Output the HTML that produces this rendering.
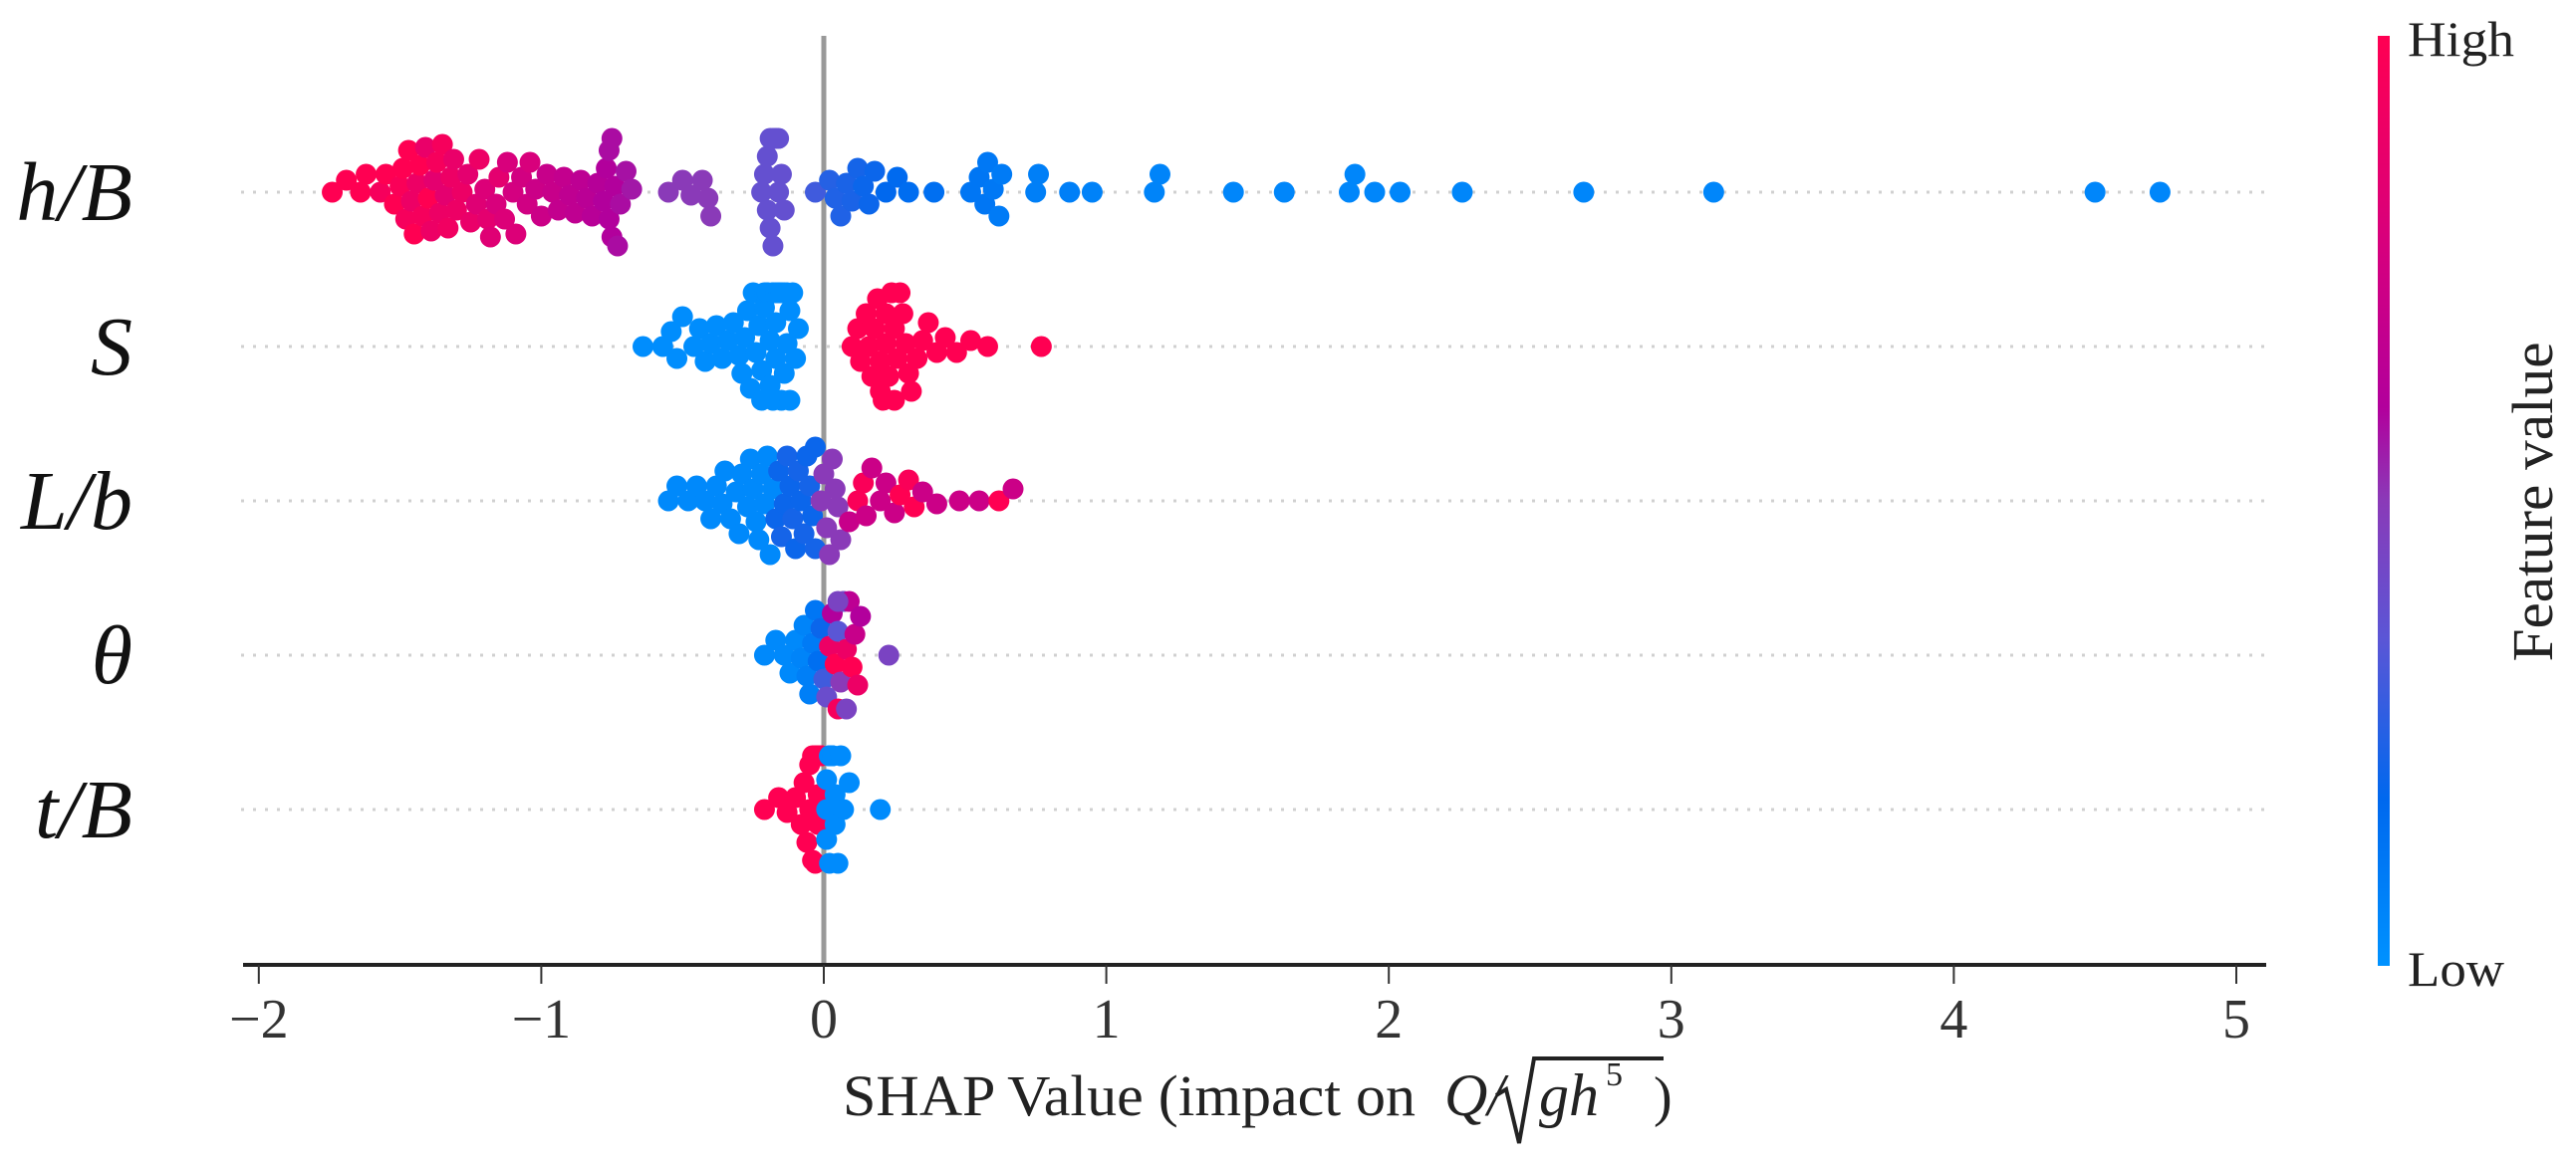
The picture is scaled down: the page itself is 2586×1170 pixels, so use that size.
<!DOCTYPE html>
<html><head><meta charset="utf-8"><style>
html,body{margin:0;padding:0;background:#fff;}
svg{display:block;font-family:"Liberation Serif","Times New Roman",serif;}
text{font-family:"Liberation Serif","Times New Roman",serif;}
</style></head><body>
<svg id="chart" width="2586" height="1170" viewBox="0 0 2586 1170" font-family="Liberation Serif, serif" xmlns="http://www.w3.org/2000/svg">
<defs>
<linearGradient id="cbar" x1="0" y1="1" x2="0" y2="0">
<stop offset="0" stop-color="#0092ff"/>
<stop offset="0.18" stop-color="#0068ee"/>
<stop offset="0.35" stop-color="#5a56d6"/>
<stop offset="0.5" stop-color="#8a3ab8"/>
<stop offset="0.6" stop-color="#b2009c"/>
<stop offset="0.78" stop-color="#d8007c"/>
<stop offset="1" stop-color="#ff0052"/>
</linearGradient>
</defs>
<g id="guides"></g>
<line x1="827" y1="36" x2="827" y2="969" stroke="#999" stroke-width="5"/>
<g id="dots"></g>
<g id="axis"></g>
<g id="labels"></g>
<rect x="2387" y="36" width="12" height="934" fill="url(#cbar)"/>
<text x="2417" y="56" font-size="50" textLength="107" lengthAdjust="spacingAndGlyphs" fill="#222">High</text>
<text x="2417" y="990" font-size="50" textLength="97" lengthAdjust="spacingAndGlyphs" fill="#222">Low</text>
<text transform="translate(2562,504) rotate(-90)" text-anchor="middle" font-size="58" textLength="321" lengthAdjust="spacingAndGlyphs" fill="#222">Feature value</text>
</svg>
<script>
const features = ["h/B", "S", "L/b", "θ", "t/B"];
const xTicks = [-2, -1, 0, 1, 2, 3, 4, 5];
const xTickLabels = ["−2", "−1", "0", "1", "2", "3", "4", "5"];

const hbX = [-1.74,-1.69,-1.64,-1.62,-1.57,-1.55,-1.52,-1.5,-1.49,-1.48,-1.47,-1.46,-1.45,-1.44,-1.43,-1.42,-1.41,-1.4,-1.39,-1.38,-1.37,-1.36,-1.35,-1.34,-1.33,-1.32,-1.31,-1.3,
-1.28,-1.26,-1.25,-1.23,-1.22,-1.2,-1.19,-1.18,-1.16,-1.15,-1.13,-1.12,-1.1,-1.09,-1.07,-1.05,-1.04,-1.02,-1.0,
-0.98,-0.96,-0.94,-0.92,-0.9,-0.88,-0.86,-0.84,-0.82,-0.8,-0.78,-0.77,-0.76,-0.76,-0.75,-0.75,-0.74,-0.73,-0.72,-0.7,-0.68,
-0.55,-0.5,-0.47,-0.43,-0.41,-0.4,
-0.22,-0.21,-0.2,-0.2,-0.19,-0.19,-0.18,-0.18,-0.17,-0.17,-0.16,-0.16,-0.15,-0.14,
-0.03,
0.02,0.04,0.06,0.08,0.1,0.12,0.14,0.16,0.18,0.22,0.26,0.3,0.39,
0.52,0.55,0.57,0.58,0.6,0.62,0.63,0.75,0.76,0.87,0.95,1.17,1.19,1.45,1.63,1.86,1.88,1.95,2.04,2.26,2.69,3.15,4.5,4.73];
const hbF = [1,1,1,1,0.95,1,1,0.97,1,0.95,1,0.9,1,0.9,1,0.95,0.88,1,0.9,0.85,0.95,0.9,0.95,0.85,0.92,0.9,0.88,0.9,
0.9,0.85,0.88,0.82,0.9,0.8,0.85,0.82,0.78,0.85,0.8,0.78,0.76,0.8,0.75,0.74,0.78,0.72,0.72,
0.7,0.7,0.68,0.68,0.66,0.66,0.65,0.64,0.63,0.62,0.6,0.6,0.6,0.58,0.6,0.58,0.6,0.58,0.58,0.57,0.56,
0.5,0.5,0.5,0.5,0.5,0.5,
0.38,0.38,0.38,0.38,0.38,0.38,0.38,0.38,0.38,0.38,0.38,0.38,0.38,0.38,
0.3,
0.25,0.24,0.24,0.23,0.23,0.22,0.2,0.2,0.2,0.18,0.17,0.16,0.15,
0.12,0.12,0.12,0.11,0.11,0.1,0.1,0.08,0.08,0.08,0.07,0.06,0.06,0.05,0.05,0.05,0.05,0.05,0.05,0.05,0.05,0.05,0.05,0.05];

const sX = [-0.64,-0.57,-0.54,-0.52,-0.5,-0.46,-0.44,-0.42,-0.4,-0.38,-0.36,-0.34,-0.32,-0.3,-0.29,-0.28,-0.27,-0.26,-0.25,-0.24,-0.23,-0.22,-0.22,-0.21,-0.21,-0.2,-0.2,-0.19,-0.19,-0.18,-0.18,-0.18,-0.17,-0.17,-0.17,-0.16,-0.16,-0.16,-0.15,-0.15,-0.15,-0.14,-0.14,-0.13,-0.13,-0.12,-0.12,-0.11,-0.1,-0.09,
0.1,0.12,0.13,0.15,0.16,0.17,0.18,0.19,0.2,0.2,0.21,0.22,0.22,0.23,0.24,0.25,0.25,0.26,0.27,0.28,0.29,0.3,0.31,0.33,0.35,0.37,0.4,0.43,0.47,0.52,0.58,0.77];
const sF = [0.02,0.02,0.02,0.02,0.02,0.02,0.02,0.02,0.02,0.02,0.02,0.02,0.02,0.02,0.02,0.02,0.02,0.02,0.02,0.02,0.02,0.02,0.02,0.02,0.02,0.02,0.02,0.02,0.02,0.02,0.02,0.02,0.02,0.02,0.02,0.02,0.02,0.02,0.02,0.02,0.02,0.02,0.02,0.02,0.02,0.02,0.02,0.02,0.02,0.02,
1,1,1,1,1,1,1,1,1,1,1,1,1,1,1,1,1,1,1,1,1,1,1,1,1,1,1,1,1,1,1,1];

const lbX = [-0.55,-0.52,-0.48,-0.45,-0.42,-0.4,-0.38,-0.36,-0.35,-0.33,-0.31,-0.3,-0.29,-0.27,-0.26,-0.25,-0.24,-0.23,-0.22,-0.21,-0.2,-0.19,-0.18,
-0.17,-0.16,-0.15,-0.14,-0.13,-0.12,-0.11,-0.1,-0.09,-0.08,-0.07,-0.06,-0.05,-0.04,-0.03,-0.03,
-0.01,0.0,0.01,0.02,0.03,0.04,0.05,0.06,
0.09,0.12,0.14,0.15,0.17,0.2,0.22,0.25,0.27,0.3,0.32,0.35,0.4,0.48,0.55,0.62,0.67];
const lbF = [0.04,0.04,0.04,0.04,0.04,0.04,0.04,0.04,0.04,0.04,0.04,0.04,0.04,0.04,0.04,0.04,0.04,0.04,0.04,0.04,0.04,0.04,0.04,
0.2,0.2,0.22,0.2,0.22,0.2,0.22,0.2,0.22,0.2,0.22,0.2,0.22,0.2,0.22,0.2,
0.5,0.5,0.5,0.5,0.5,0.5,0.5,0.5,
0.7,0.97,0.97,0.72,0.72,0.72,0.72,0.72,1,0.97,1,0.72,0.72,0.72,0.72,1,0.72];

const thX = [-0.21,-0.17,-0.14,-0.12,-0.1,-0.08,-0.07,-0.06,-0.05,-0.04,-0.03,-0.02,-0.01,
0.0,0.01,0.02,0.03,0.04,0.05,0.05,0.06,0.07,0.07,0.08,0.09,0.1,0.11,0.12,0.13,0.05,0.08,0.23];
const thF = [0.04,0.04,0.04,0.04,0.04,0.06,0.06,0.08,0.08,0.1,0.12,0.15,0.2,
0.3,0.4,0.9,0.6,1,0.35,0.95,0.5,1,0.4,0.9,0.65,1,0.7,0.9,0.6,0.45,0.45,0.45];

const tbX = [-0.21,-0.16,-0.13,-0.1,-0.08,-0.07,-0.06,-0.05,-0.05,-0.04,-0.04,-0.03,-0.03,-0.03,-0.02,-0.02,-0.02,-0.02,-0.01,-0.01,-0.01,-0.01,
0.01,0.01,0.01,0.02,0.02,0.02,0.02,0.03,0.03,0.03,0.03,0.04,0.04,0.05,0.06,0.07,0.09,0.2];
const tbF = [1,1,1,1,1,1,1,1,1,1,1,1,1,1,1,1,1,1,1,1,1,1,
0.03,0.03,0.03,0.03,0.03,0.03,0.03,0.03,0.03,0.03,0.03,0.03,0.03,0.03,0.03,0.03,0.03,0.03];

const seriesX = [hbX, sX, lbX, thX, tbX];
const seriesF = [hbF, sF, lbF, thF, tbF];

const NS = "http://www.w3.org/2000/svg";
const X0 = 827, XU = 283.6, ROW0 = 193, ROWH = 155;
function xScale(v){ return X0 + v * XU; }
function yRow(i){ return ROW0 + i * ROWH; }
const stops = [[0,[0,146,255]],[0.18,[0,104,238]],[0.35,[90,86,214]],[0.5,[138,58,184]],[0.6,[178,0,156]],[0.78,[216,0,124]],[1,[255,0,82]]];
function colorOf(f){
  for(let i=1;i<stops.length;i++){
    if(f<=stops[i][0]){
      const a=stops[i-1], b=stops[i], t=(f-a[0])/(b[0]-a[0]);
      const c=a[1].map((v,k)=>Math.round(v+(b[1][k]-v)*t));
      return "rgb("+c.join(",")+")";
    }
  }
  return "rgb(255,0,82)";
}
function mk(tag, attrs){
  const el=document.createElementNS(NS,tag);
  for(const k in attrs) el.setAttribute(k, attrs[k]);
  return el;
}
const guides=document.getElementById("guides");
const dots=document.getElementById("dots");
const axis=document.getElementById("axis");
const labels=document.getElementById("labels");
const FF="Liberation Serif, serif";

features.forEach((name,i)=>{
  const y=yRow(i);
  const g=mk("line",{x1:242,y1:y,x2:2275,y2:y,stroke:"#d0d0d0","stroke-width":3,"stroke-dasharray":"3 9"});
  
  
  guides.appendChild(g);
  const t=mk("text",{x:133,y:y+28,"text-anchor":"end","font-size":84,"font-style":"italic",fill:"#111","font-family":FF});
  t.textContent=name;
  
  
  labels.appendChild(t);

  const xs=seriesX[i], fs=seriesF[i];
  const placed=[];
  const order=xs.map((v,k)=>k).sort((a,b)=>xs[a]-xs[b]);
  const D=17, step=3, maxOff=54;
  const offs={};
  order.forEach(k=>{
    const px=xScale(xs[k]);
    let chosen=0;
    for(let n=0;n<60;n++){
      const o=(n%2===0?1:-1)*Math.ceil(n/2)*step;
      let ok=true;
      for(const p of placed){
        const dx=p[0]-px, dy=p[1]-o;
        if(dx*dx+dy*dy<D*D){ok=false;break;}
      }
      if(ok){chosen=o;break;}
      chosen=o;
    }
    chosen=Math.max(-maxOff,Math.min(maxOff,chosen));
    placed.push([px,chosen]);
    offs[k]=chosen;
  });
  xs.forEach((v,k)=>{
    const c=mk("circle",{cx:xScale(v),cy:y+offs[k],r:10.5,fill:colorOf(fs[k])});
    
    
    dots.appendChild(c);
  });
});

const al=mk("line",{x1:244,y1:969,x2:2275,y2:969,stroke:"#222","stroke-width":4});


axis.appendChild(al);
xTicks.forEach((v,k)=>{
  const x=xScale(v);
  const tk=mk("line",{x1:x,y1:969,x2:x,y2:988,stroke:"#333","stroke-width":2});
  
  
  axis.appendChild(tk);
  const tl=mk("text",{x:x,y:1042,"text-anchor":"middle","font-size":56,fill:"#333","font-family":FF});
  tl.textContent=xTickLabels[k];
  
  
  axis.appendChild(tl);
});
const xt=mk("text",{x:846,y:1120,"font-size":58,fill:"#222","font-family":FF,textLength:575,lengthAdjust:"spacingAndGlyphs"});
xt.textContent="SHAP Value (impact on";


axis.appendChild(xt);
const q=mk("text",{x:1450,y:1120,"font-size":60,"font-style":"italic",fill:"#222","font-family":FF});
q.textContent="Q/";


axis.appendChild(q);
const rad=mk("path",{d:"M1502 1100 L1512 1094 L1525 1148 L1540 1063 L1670 1063",fill:"none",stroke:"#222","stroke-width":4});


axis.appendChild(rad);
const gh=mk("text",{x:1545,y:1120,"font-size":60,"font-style":"italic",fill:"#222","font-family":FF});
gh.textContent="gh";


axis.appendChild(gh);
const sup=mk("text",{x:1612,y:1090,"font-size":34,fill:"#222","font-family":FF});
sup.textContent="5";


axis.appendChild(sup);
const cp=mk("text",{x:1660,y:1120,"font-size":56,fill:"#222","font-family":FF});
cp.textContent=")";


axis.appendChild(cp);
</script>
</body></html>
